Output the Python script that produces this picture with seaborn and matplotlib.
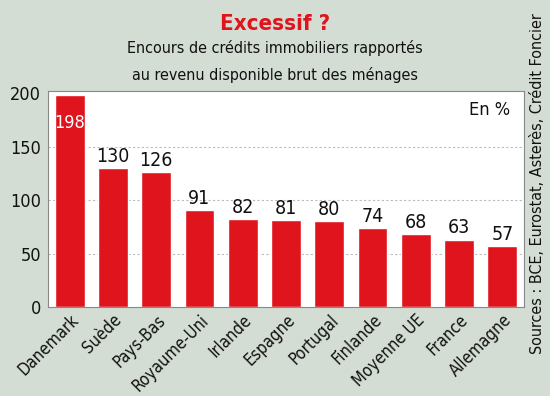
import matplotlib
matplotlib.use("Agg")
import matplotlib.pyplot as plt
import seaborn as sns
import pandas as pd

categories = ["Danemark", "Suède", "Pays-Bas", "Royaume-Uni", "Irlande", "Espagne",
              "Portugal", "Finlande", "Moyenne UE", "France", "Allemagne"]
values = [198, 130, 126, 91, 82, 81, 80, 74, 68, 63, 57]
yticks = [0, 50, 100, 150, 200]

BG = "#d4ddd4"
RED = "#e0141c"
INK = "#111111"

sns.set_theme(style="white")
plt.rcParams['font.family'] = ['DejaVu Sans']
plt.rcParams['font.stretch'] = 'condensed'
plt.rcParams['text.color'] = INK
plt.rcParams['xtick.color'] = INK
plt.rcParams['ytick.color'] = INK

df = pd.DataFrame({"pays": categories, "valeur": values})

fig = plt.figure(figsize=(5.5, 3.96), dpi=100, facecolor=BG)
ax = fig.add_axes([48/550, 1-307/396, (524-48)/550, (307-91)/396])
ax.set_facecolor("white")

sns.barplot(data=df, x="pays", y="valeur", color=RED, saturation=1, width=0.69, ax=ax)

ax.set_ylim(0, 202)
ax.set_xlim(-0.5, len(categories)-0.5)
ax.set_yticks(yticks)
ax.set_yticklabels([str(t) for t in yticks], fontsize=13)
for t in yticks[1:-1]:
    ax.axhline(t, color="#bbbbbb", lw=0.8, ls=(0, (2, 2)), zorder=0)
ax.set_xlabel("")
ax.set_ylabel("")
ax.set_xticks(range(len(categories)))
ax.set_xticklabels(categories, rotation=45, ha="right", rotation_mode="anchor", fontsize=12)
ax.tick_params(axis="x", length=0, pad=3)
ax.tick_params(axis="y", length=0, pad=5)
for s in ax.spines.values():
    s.set_color("#888888")
    s.set_linewidth(0.8)

for i, v in enumerate(values):
    if i == 0:
        ax.text(i, v - 26, str(v), ha="center", va="center", color="white", fontsize=13)
    else:
        ax.text(i, v + 2, str(v), ha="center", va="bottom", color=INK, fontsize=14)

ax.text((510-48)/476, (307-110)/216, "En %", transform=ax.transAxes, ha="right", va="center", fontsize=13)

fig.text(0.5, 1-24/396, "Excessif ?", ha="center", va="center", color=RED,
         fontsize=16, fontweight="bold")
fig.text(0.5, 1-48/396, "Encours de crédits immobiliers rapportés",
         ha="center", va="center", fontsize=11.5)
fig.text(0.5, 1-75/396, "au revenu disponible brut des ménages",
         ha="center", va="center", fontsize=11.5)
fig.text(537/550, 1-184/396, "Sources : BCE, Eurostat, Asterès, Crédit Foncier", rotation=90,
         ha="center", va="center", fontsize=11.5)

fig.savefig("out.png", dpi=100, facecolor=BG)
